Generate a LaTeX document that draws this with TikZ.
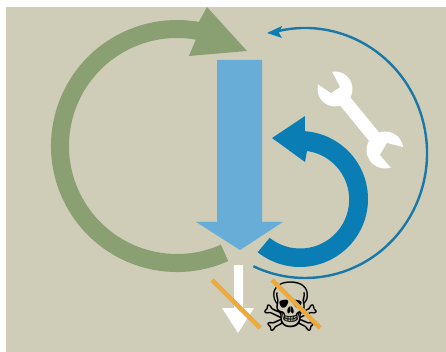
\documentclass[tikz,border=0pt]{standalone}
\usepackage{fontspec}
\newfontfamily\symfont{DejaVu Sans}
\definecolor{bgc}{HTML}{CFCDB7}
\definecolor{greenc}{HTML}{8BA072}
\definecolor{lightb}{HTML}{67ADD7}
\definecolor{darkb}{HTML}{0B7DB5}
\definecolor{thinb}{HTML}{1A78A8}
\definecolor{orangec}{HTML}{EFA93A}
\tikzset{crossline/.style={draw=orangec,line width=4.6pt}}
\begin{document}
\begin{tikzpicture}[x=1pt,y=-1pt]
\useasboundingbox (0,0) rectangle (446,352);
\fill[white] (0,0) rectangle (446,352);
\fill[bgc] (6,7) rectangle (446,352);
% green arrow
\fill[greenc] ({177+126*cos(66)},{146+126*sin(66)}) arc[start angle=66,end angle=280,radius=126]
  -- (207,7) -- (247,51) -- (189,56) -- ({177+108*cos(280)},{146+108*sin(280)})
  arc[start angle=280,end angle=66,radius=108] -- cycle;
% thin arc
\draw[thinb,line width=2.4pt] ({305+122*cos(255)},{153+125*sin(255)}) arc[start angle=255,end angle=475,x radius=122,y radius=125];
\fill[darkb] (267,33) -- (282,26) -- (279,33) -- (282,38) -- cycle;
% light blue arrow
\fill[lightb] (217,60) -- (262,60) -- (262,222) -- (283,222) -- (240,250) -- (196,222) -- (217,222) -- cycle;
% dark blue arrow
\fill[darkb] ({300+68*cos(128.5)},{199+68*sin(128.5)}) arc[start angle=128.5,end angle=-86,radius=68]
  -- (305,116) -- (272,138) -- (305,162) -- (307,151)
  arc[start angle=-82,end angle=128.5,radius=49] -- cycle;
% wrench
\fill[white] (335,89) circle[radius=17.5];
\fill[white] (385,150) circle[radius=18.5];
\draw[white,line width=13pt] (335,89) -- (385,150);
\fill[bgc] (331,70) -- (340,87) -- (331,93) -- (316,83) -- (316,70) -- cycle;
\fill[bgc] (406,148) -- (387,143) -- (380,155) -- (393,170) -- (406,170) -- cycle;
% white arrow
\fill[white] (234,265) -- (243,265) -- (243,308) -- (254,308) -- (238,333) -- (222,308) -- (234,308) -- cycle;
% skull
\node (skull) at (291,307) {\symfont\fontsize{68}{68}\selectfont ☠};
% crossing lines
\draw[crossline] (212,280) -- (260,328);
\draw[crossline] (272,280) -- (320,328);
\end{tikzpicture}
\end{document}
